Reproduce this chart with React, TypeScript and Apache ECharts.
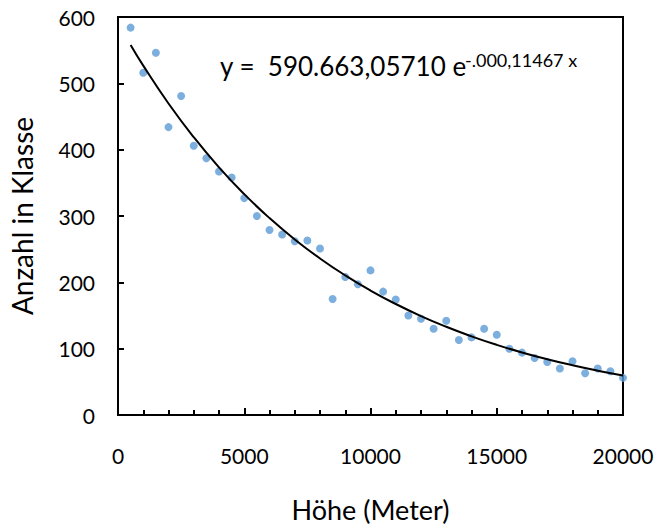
import React, { useEffect, useRef } from "react";
import * as echarts from "echarts";

const heights = [500,1000,1500,2000,2500,3000,3500,4000,4500,5000,5500,6000,6500,7000,7500,8000,8500,9000,9500,10000,10500,11000,11500,12000,12500,13000,13500,14000,14500,15000,15500,16000,16500,17000,17500,18000,18500,19000,19500,20000];
const counts = [584,516,546,434,481,406,387,367,358,327,300,279,272,262,263,251,175,208,197,218,186,174,150,145,130,142,113,117,130,121,100,94,86,80,70,81,63,70,66,56];

// Fitted exponential trendline y = A * e^(-B x), as printed on the chart
const fitA = 590.66305710;
const fitB = 0.00011467;
const fitX = [500, 1000, 2000, 3000, 4000, 5000, 6000, 7000, 8000, 9000, 10000, 11000, 12000, 13000, 14000, 15000, 16000, 17000, 18000, 19000, 20000];

const xTicks = [0, 5000, 10000, 15000, 20000];
const yTicks = [0, 100, 200, 300, 400, 500, 600];

const eqMain = "y =  590.663,05710 e";
const eqSup = "-.000,11467 x";

const FONT = "Lato";

export default function App() {
  const ref = useRef<HTMLDivElement>(null);
  useEffect(() => {
    if (!ref.current) return;
    const chart = echarts.init(ref.current, undefined, { renderer: "svg" });
    const scatter = heights.map((h, i) => [h, counts[i]]);
    const fit = fitX.map((x) => [x, fitA * Math.exp(-fitB * x)]);
    chart.setOption({
      animation: false,
      backgroundColor: "#ffffff",
      grid: {
        left: 116, right: 41, top: 17, bottom: 104,
        show: true, borderColor: "#000", borderWidth: 2, backgroundColor: "transparent",
      },
      xAxis: {
        type: "value", min: xTicks[0], max: xTicks[xTicks.length - 1], interval: 5000,
        name: "Höhe (Meter)", nameLocation: "middle", nameGap: 81,
        nameTextStyle: { fontFamily: FONT, fontSize: 27, color: "#000" },
        axisLine: { show: true, onZero: false, lineStyle: { color: "#000", width: 2 } },
        axisTick: { show: true, inside: true, length: 7, lineStyle: { color: "#000", width: 2 } },
        minorTick: { show: true, splitNumber: 5, length: 5, lineStyle: { color: "#000", width: 2 } },
        axisLabel: { margin: 30, fontFamily: FONT, fontSize: 21, color: "#000", formatter: (v: number) => String(v) },
        splitLine: { show: false },
        minorSplitLine: { show: false },
      },
      yAxis: {
        type: "value", min: yTicks[0], max: yTicks[yTicks.length - 1], interval: 100,
        name: "Anzahl in Klasse", nameLocation: "middle", nameGap: 82,
        nameTextStyle: { fontFamily: FONT, fontSize: 28, color: "#000" },
        axisLine: { show: true, onZero: false, lineStyle: { color: "#000", width: 2 } },
        axisTick: { show: true, inside: true, length: 6, lineStyle: { color: "#000", width: 2 } },
        axisLabel: { margin: 23, fontFamily: FONT, fontSize: 21, color: "#000", formatter: (v: number) => String(v) },
        splitLine: { show: false },
      },
      graphic: [
        {
          type: "text", x: 220, y: 66, z: 10,
          style: { text: eqMain, fontFamily: FONT, fontSize: 26, fill: "#000", align: "left", verticalAlign: "middle" },
        },
        {
          type: "text", x: 465, y: 60, z: 10,
          style: { text: eqSup, fontFamily: FONT, fontSize: 18, fill: "#000", align: "left", verticalAlign: "middle" },
        },
      ],
      series: [
        {
          type: "scatter", data: scatter, symbolSize: 8,
          itemStyle: { color: "#5B9BD5" }, z: 2,
        },
        {
          type: "line", data: fit, smooth: true, showSymbol: false, symbol: "none",
          lineStyle: { color: "#000", width: 2 }, z: 3,
        },
      ],
    });
    return () => chart.dispose();
  }, []);
  return <div ref={ref} style={{ position: "absolute", left: 0, top: 0, width: 664, height: 528 }} />;
}
